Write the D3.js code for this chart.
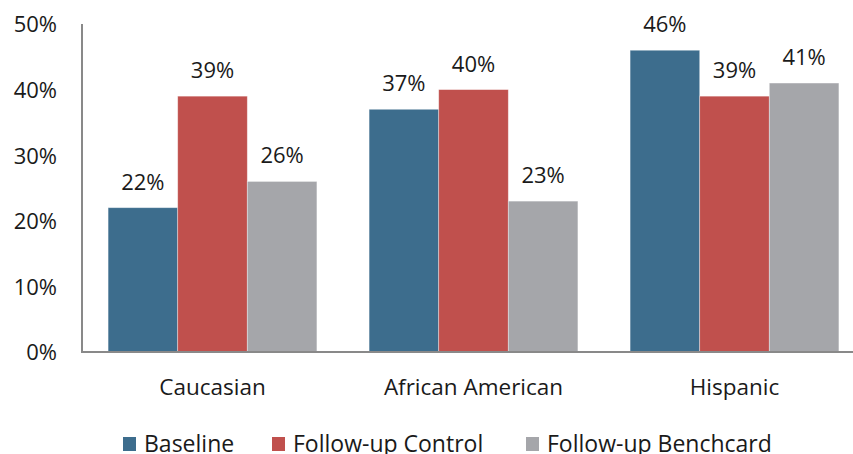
<!DOCTYPE html>
<html>
<head>
<meta charset="utf-8">
<script src="https://cdn.jsdelivr.net/npm/d3@7"></script>
<style>
  html, body { margin: 0; padding: 0; background: #fff; }
  svg { display: block; font-family: "Open Sans", sans-serif; }
</style>
</head>
<body>
<svg id="chart" width="853" height="454"></svg>
<script>
// Share of respondents by group, for each measurement
const categories = ["Caucasian", "African American", "Hispanic"];
const seriesNames = ["Baseline", "Follow-up Control", "Follow-up Benchcard"];
const baseline = [0.22, 0.37, 0.46];
const followUpControl = [0.39, 0.40, 0.39];
const followUpBenchcard = [0.26, 0.23, 0.41];
const yTicks = [0, 0.1, 0.2, 0.3, 0.4, 0.5];
const colors = ["#3D6D8D", "#C0504D", "#A5A6AA"];

const series = [baseline, followUpControl, followUpBenchcard];
const rows = categories.map((c, i) => ({
  category: c,
  values: seriesNames.map((s, j) => ({ key: s, value: series[j][i] }))
}));

const svg = d3.select("#chart");
const plot = { left: 82, right: 865, top: 24, bottom: 352 };

const x0 = d3.scaleBand()
  .domain(categories)
  .range([plot.left, plot.right])
  .paddingInner(0.2)
  .paddingOuter(0.1);

const x1 = d3.scaleBand()
  .domain(seriesNames)
  .range([0, x0.bandwidth()]);

const y = d3.scaleLinear()
  .domain([0, 0.5])
  .range([plot.bottom, plot.top]);

const color = d3.scaleOrdinal().domain(seriesNames).range(colors);
const pct = d3.format(".0%");

// Bars
const groups = svg.append("g").selectAll("g")
  .data(rows)
  .join("g")
  .attr("transform", d => `translate(${x0(d.category)},0)`);

groups.selectAll("rect")
  .data(d => d.values)
  .join("rect")
  .attr("x", d => x1(d.key))
  .attr("y", d => y(d.value))
  .attr("width", x1.bandwidth())
  .attr("height", d => y(0) - y(d.value))
  .attr("fill", d => color(d.key))
  .attr("stroke", "#ffffff")
  .attr("stroke-opacity", 0.45)
  .attr("stroke-width", 0.8);

// Value labels
groups.selectAll("text")
  .data(d => d.values)
  .join("text")
  .attr("x", d => x1(d.key) + x1.bandwidth() / 2)
  .attr("y", d => y(d.value) - 18)
  .attr("text-anchor", "middle")
  .attr("font-size", 22)
  .attr("fill", "#1a1a1a")
  .text(d => pct(d.value));

// Y axis
const yAxis = svg.append("g")
  .attr("transform", `translate(${plot.left},0)`)
  .call(d3.axisLeft(y).tickValues(yTicks).tickFormat(pct).tickSize(0).tickPadding(25));
yAxis.select(".domain").remove();
yAxis.selectAll("text")
  .attr("font-size", 22)
  .attr("font-family", "Open Sans, sans-serif")
  .attr("fill", "#1a1a1a")
  .attr("dy", "0.36em");

// X axis
const xAxis = svg.append("g")
  .attr("transform", `translate(0,${plot.bottom})`)
  .call(d3.axisBottom(x0).tickSize(0).tickPadding(27));
xAxis.select(".domain").remove();
xAxis.selectAll("text")
  .attr("font-size", 22.5)
  .attr("font-family", "Open Sans, sans-serif")
  .attr("fill", "#1a1a1a")
  .attr("dy", "0.71em");

// Axis lines
svg.append("line")
  .attr("x1", plot.left).attr("x2", plot.left)
  .attr("y1", plot.top).attr("y2", plot.bottom)
  .attr("stroke", "#898989").attr("stroke-width", 2);
svg.append("line")
  .attr("x1", plot.left - 1).attr("x2", plot.right)
  .attr("y1", plot.bottom).attr("y2", plot.bottom)
  .attr("stroke", "#898989").attr("stroke-width", 2);

// Legend
const legendX = [123, 272, 526];
const legend = svg.append("g").selectAll("g")
  .data(seriesNames)
  .join("g")
  .attr("transform", (d, i) => `translate(${legendX[i]},437)`);
legend.append("rect")
  .attr("width", 13).attr("height", 14)
  .attr("fill", d => color(d));
legend.append("text")
  .attr("x", 21).attr("y", 15)
  .attr("font-size", 23)
  .attr("fill", "#1a1a1a")
  .text(d => d);
</script>
</body>
</html>
